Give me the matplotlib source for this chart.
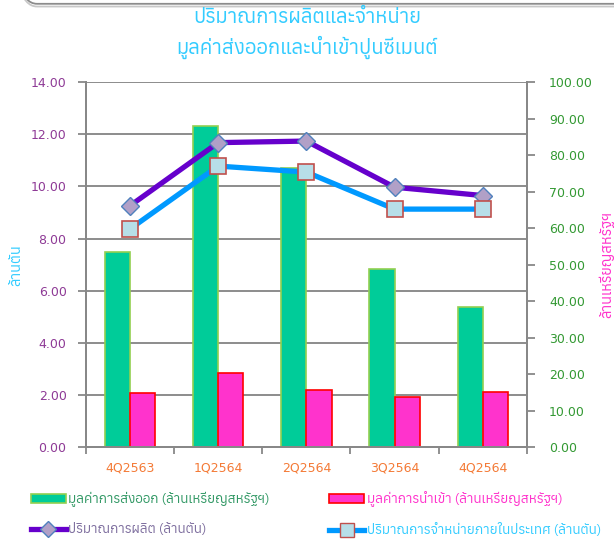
import matplotlib
matplotlib.use("Agg")
import matplotlib.pyplot as plt
from matplotlib import font_manager, ft2font
from matplotlib.patches import Patch, FancyBboxPatch
from matplotlib.lines import Line2D
import numpy as np

# data
quarters = ["4Q2563", "1Q2564", "2Q2564", "3Q2564", "4Q2564"]
export_value = [53.6, 88.0, 76.5, 48.9, 38.4]     # million USD (right axis)
import_value = [14.8, 20.4, 15.7, 13.8, 15.0]     # million USD (right axis)
production = [9.26, 11.68, 11.74, 9.97, 9.65]     # million tons (left axis)
domestic_sales = [8.37, 10.78, 10.55, 9.13, 9.13] # million tons (left axis)

left_ticks = [0, 2, 4, 6, 8, 10, 12, 14]
right_ticks = [0, 10, 20, 30, 40, 50, 60, 70, 80, 90, 100]


def find_thai_font():
    # prefer a Thai font whose tone marks have no advance (they stack better)
    found = []
    for f in font_manager.fontManager.ttflist:
        try:
            ft = ft2font.FT2Font(f.fname)
            if 0x0E01 not in ft.get_charmap():
                continue
            g = ft.load_char(0x0E49)
            found.append((g.horiAdvance != 0, f.name))
        except Exception:
            pass
    found.sort()
    return found[0][1] if found else None


thai = find_thai_font()
families = ([thai] if thai else []) + ["DejaVu Sans"]
plt.rcParams["font.family"] = families

fig = plt.figure(figsize=(6.14, 5.44), dpi=100)

# rounded frame edge at the top (bottom of the box above)
for off, col in [(0.0, "#8c8c8c"), (0.005, "#c8c8c8")]:
    box = FancyBboxPatch((0.02, 0.993 - off), 1.2, 0.2, boxstyle="round,pad=0,rounding_size=0.04",
                         transform=fig.transFigure, fill=False, edgecolor=col, lw=1.3, clip_on=False)
    fig.patches.append(box)

ax = fig.add_axes([0.140, 0.178, 0.718, 0.671])
ax2 = ax.twinx()
ax3 = ax.twinx()

x = np.arange(len(quarters))
w = 0.285

ax2.bar(x - w / 2, export_value, w, color="#00CC99", edgecolor="#92D050", lw=1.2, zorder=2)
ax2.bar(x + w / 2, import_value, w, color="#FF33CC", edgecolor="#FF0000", lw=1.2, zorder=2)

ax3.plot(x, production, color="#6600CC", lw=3.8, marker="D", ms=9,
         mfc="#B1A0C7", mec="#4F81BD", mew=1.0, zorder=3)
ax3.plot(x, domestic_sales, color="#0099FF", lw=3.8, marker="s", ms=12,
         mfc="#B7DEE8", mec="#C0504D", mew=1.2, zorder=3)

for a in (ax, ax2, ax3):
    a.set_xlim(-0.5, len(quarters) - 0.5)
ax.set_ylim(0, 14)
ax3.set_ylim(0, 14)
ax2.set_ylim(0, 100)

ax.set_yticks(left_ticks)
ax.set_yticklabels(["%.2f" % v for v in left_ticks], fontsize=9, color="#8E3A96",
                   family="DejaVu Sans")
ax2.set_yticks(right_ticks)
ax2.set_yticklabels(["%.2f" % v for v in right_ticks], fontsize=9, color="#339933",
                    family="DejaVu Sans")
ax3.set_yticks([])

ax.set_xticks(np.arange(len(quarters) + 1) - 0.5)
ax.set_xticklabels([])
ax.set_xticks(x, minor=True)
ax.set_xticklabels(quarters, minor=True, fontsize=9, color="#F47A36", family="DejaVu Sans")
ax.tick_params(axis="x", which="minor", length=0, pad=10)
ax.tick_params(axis="x", which="major", length=5, color="#888888", width=1.3)
ax.tick_params(axis="y", length=6, color="#888888", width=1.3, pad=8)
ax2.tick_params(axis="y", length=6, color="#888888", width=1.3, pad=10)

ax.grid(axis="y", color="#8c8c8c", lw=1.4)
ax.set_axisbelow(True)

for a in (ax, ax2, ax3):
    a.spines["top"].set_visible(False)
    for s in ("left", "right", "bottom"):
        a.spines[s].set_color("#888888")
        a.spines[s].set_linewidth(1.3)

ax.set_ylabel("ล้านตัน", color="#33CCFF", fontsize=10.5, labelpad=5)
ax2.set_ylabel("ล้านเหรียญสหรัฐฯ", color="#FF33CC", fontsize=10.5, rotation=90, labelpad=4)

fig.text(0.5, 0.968, "ปริมาณการผลิตและจำหน่าย", ha="center", va="center",
         fontsize=14.6, color="#33CCFF")
fig.text(0.5, 0.913, "มูลค่าส่งออกและนำเข้าปูนซีเมนต์", ha="center", va="center",
         fontsize=14.6, color="#33CCFF")

handles = [
    Patch(facecolor="#00CC99", edgecolor="#92D050", lw=1.2),
    Line2D([], [], color="#6600CC", lw=3.8, marker="D", ms=8, mfc="#B1A0C7", mec="#4F81BD"),
    Patch(facecolor="#FF33CC", edgecolor="#FF0000", lw=1.2),
    Line2D([], [], color="#0099FF", lw=3.8, marker="s", ms=10, mfc="#B7DEE8", mec="#C0504D"),
]
labels = ["มูลค่าการส่งออก (ล้านเหรียญสหรัฐฯ)", "ปริมาณการผลิต (ล้านตัน)",
          "มูลค่าการนำเข้า (ล้านเหรียญสหรัฐฯ)", "ปริมาณการจำหน่ายภายในประเทศ (ล้านตัน)"]
label_colors = ["#339966", "#7F6F9F", "#FF33CC", "#33CCFF"]
leg = fig.legend(handles, labels, ncol=2, loc="lower left", bbox_to_anchor=(0.03, -0.01),
                 frameon=False, fontsize=9.7, handlelength=2.6, handletextpad=0.2,
                 columnspacing=4.4, labelspacing=1.2)
for t, c in zip(leg.get_texts(), label_colors):
    t.set_color(c)

fig.savefig("out.png", dpi=100)
